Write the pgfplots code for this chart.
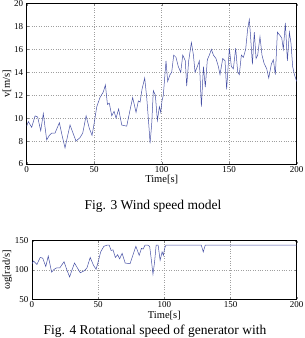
\documentclass[border=0pt]{standalone}
\usepackage{fontspec}
\setmainfont{Liberation Serif}
\usepackage{pgfplots}
\pgfplotsset{compat=1.18}
\definecolor{lineblue}{RGB}{70,80,165}
\pgfplotsset{
  mystyle/.style={
    scale only axis,
    anchor=south west,
    xmin=0, xmax=200,
    xtick={0,50,100,150,200},
    grid=major,
    major grid style={dotted, gray!75, line width=0.45pt},
    tick align=inside,
    major tick length=2pt,
    axis line style={line width=0.5pt},
    /pgf/number format/assume math mode=true,
    tick label style={font=\fontsize{9}{10}\selectfont},
    label style={font=\fontsize{10.5}{11}\selectfont},
    xlabel={Time[s]},
    xlabel style={yshift=4pt},
    ylabel style={yshift=-4pt},
    xticklabel style={yshift=1pt},
  }
}
\begin{document}
\begin{tikzpicture}
\path[use as bounding box] (0,0) rectangle (305pt,338pt);
\begin{axis}[mystyle,
  at={(26.7pt,174pt)}, width=270pt, height=160.5pt,
  ymin=6, ymax=20, ytick={6,8,10,12,14,16,18,20},
  ylabel={v[m/s]},
]
\addplot[lineblue, line width=0.5pt] coordinates {
(0,9.3)(1.2,9.7)(3.7,9.2)(6.2,10.2)(8.1,10.1)(10.4,8.9)(12.3,10.4)(14.8,8.1)
(16.8,8.5)(18.5,8.7)(21.0,8.7)(24.2,9.6)(26.2,8.5)(28.4,7.4)(30.4,8.5)(32.1,9.4)
(36.5,8.0)(39.5,8.3)(41.5,8.7)(44.0,10.2)(46.4,9.1)(48.4,8.5)(49.9,9.5)(51.9,11.0)
(54.3,11.8)(56.8,12.3)(58.3,12.9)(59.8,11.2)(61.2,11.3)(63.0,10.2)(64.7,10.6)(66.2,10.0)
(68.1,10.8)(70.4,9.4)(74.1,9.3)(76.0,10.4)(78.5,11.8)(81.0,10.5)(82.7,11.5)(84.0,11.4)
(85.4,12.5)(87.4,13.5)(88.9,11.8)(90.4,9.5)(91.4,7.8)(92.6,9.5)(93.8,12.4)(95.3,12.0)
(96.8,9.8)(98.3,11.0)(99.3,10.5)(100.2,11.5)(101.2,12.0)(103.2,15.0)(104.4,13.2)(106.2,13.8)
(107.4,14.0)(108.9,15.5)(110.6,15.3)(112.3,14.5)(114.1,14.0)(115.6,15.5)(117.5,15.0)(118.5,12.8)
(120.0,15.0)(122.0,16.6)(123.5,15.5)(124.7,14.0)(126.4,14.5)(127.9,15.0)(129.4,11.0)(130.9,14.5)
(132.3,12.7)(133.8,15.1)(135.3,15.5)(136.8,16.0)(138.3,15.5)(140.2,15.2)(142.0,14.5)(143.2,13.8)
(145.2,15.2)(146.9,15.0)(148.1,12.5)(150.1,16.1)(151.6,14.5)(153.1,14.3)(154.8,16.1)(156.3,14.0)
(157.5,13.8)(159.0,15.5)(160.5,15.3)(162.2,16.0)(163.7,17.8)(164.9,18.6)(165.9,17.0)(167.2,14.7)
(168.6,17.5)(169.9,15.2)(171.1,15.5)(172.8,17.1)(174.3,15.5)(175.8,14.8)(177.8,14.3)(179.3,13.5)
(181.2,14.7)(182.7,15.1)(184.2,13.8)(185.7,17.5)(187.7,17.2)(188.9,17.0)(190.1,16.0)(191.6,18.3)
(193.1,15.0)(194.6,17.5)(195.8,16.5)(197.0,14.5)(198.3,13.8)(200,13.2)
};
\end{axis}
\node[font=\fontsize{13.5}{15}\selectfont, anchor=base] at (153pt,128pt) {Fig. 3 Wind speed model};
\begin{axis}[mystyle,
  at={(32pt,38.7pt)}, width=264.7pt, height=58.6pt,
  ymin=50, ymax=150, ytick={50,100,150},
  ylabel={ωg[rad/s]},
]
\addplot[lineblue, line width=0.5pt] coordinates {
(0,110.7)(1.2,115.4)(3.7,109.5)(6.2,121.4)(8.1,120.2)(10.4,105.9)(12.3,123.8)(14.8,96.4)
(16.8,101.2)(18.5,103.5)(21.0,103.5)(24.2,114.2)(26.2,101.2)(28.4,88.1)(30.4,101.2)(32.1,111.9)
(36.5,95.2)(39.5,98.8)(41.5,103.5)(44.0,121.4)(46.4,108.3)(48.4,101.2)(49.9,113.1)(51.9,130.9)
(54.3,140.4)(56.8,142.5)(58.3,142.5)(59.8,133.3)(61.2,134.5)(63.0,121.4)(64.7,126.1)(66.2,119.0)
(68.1,128.5)(70.4,111.9)(74.1,110.7)(76.0,123.8)(78.5,140.4)(81.0,125.0)(82.7,136.9)(84.0,135.7)
(85.4,142.5)(87.4,142.5)(88.9,140.4)(90.4,113.1)(91.4,92.8)(92.6,113.1)(93.8,142.5)(95.3,142.5)
(96.8,116.6)(98.3,130.9)(99.3,125.0)(100.2,136.9)(101.2,142.5)(127.9,142.5)(129.4,130.9)(130.9,142.5)
(200,142.5)
};
\end{axis}
\node[font=\fontsize{13.5}{15}\selectfont, anchor=base] at (155pt,3pt) {Fig. 4 Rotational speed of generator with};
\end{tikzpicture}
\end{document}
